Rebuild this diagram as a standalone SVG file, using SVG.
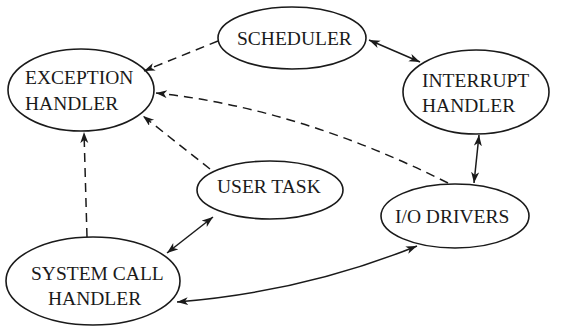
<svg xmlns="http://www.w3.org/2000/svg" width="561" height="327" viewBox="0 0 561 327">
<style>
.node ellipse{fill:none;stroke:#1a1a1a;stroke-width:1.6}
.node text{font-family:"Liberation Serif","Times New Roman",serif;font-size:19.5px;fill:#1a1a1a}
.c{fill:none;stroke:#1a1a1a;stroke-width:1.5}
.d{stroke-dasharray:9 6}
</style>
<defs>
<marker id="ah" markerUnits="userSpaceOnUse" markerWidth="12" markerHeight="10" refX="11" refY="4" orient="auto-start-reverse">
<path d="M0,0 L11,4 L0,8 L3,4 z" fill="#1a1a1a"/>
</marker>
</defs>
<rect width="561" height="327" fill="#ffffff"/>
<g id="connectors">
<path class="c d" d="M218,41 L144,71" marker-end="url(#ah)"/>
<path class="c" d="M369,40 L420,62" marker-start="url(#ah)" marker-end="url(#ah)"/>
<path class="c d" d="M448,183 Q298,108 156,93" marker-end="url(#ah)"/>
<path class="c d" d="M210,169 L143,116" marker-end="url(#ah)"/>
<path class="c d" d="M87,237 L84,132" marker-end="url(#ah)"/>
<path class="c" d="M213,217 L167,253" marker-start="url(#ah)" marker-end="url(#ah)"/>
<path class="c" d="M177,302 Q303,292 417,246" marker-start="url(#ah)" marker-end="url(#ah)"/>
<path class="c" d="M479,135 L474,183" marker-start="url(#ah)" marker-end="url(#ah)"/>
</g>
<g id="exception-handler" class="node">
<ellipse cx="81" cy="90" rx="73" ry="41"/>
<text x="25" y="84">EXCEPTION</text>
<text x="25" y="110">HANDLER</text>
</g>
<g id="scheduler" class="node">
<ellipse cx="292" cy="38" rx="74" ry="31"/>
<text x="237" y="45">SCHEDULER</text>
</g>
<g id="interrupt-handler" class="node">
<ellipse cx="476" cy="92" rx="73" ry="42"/>
<text x="422" y="87">INTERRUPT</text>
<text x="422" y="112">HANDLER</text>
</g>
<g id="user-task" class="node">
<ellipse cx="270" cy="190" rx="73" ry="29"/>
<text x="217" y="193">USER TASK</text>
</g>
<g id="io-drivers" class="node">
<ellipse cx="455" cy="216" rx="74" ry="32"/>
<text x="395" y="223">I/O DRIVERS</text>
</g>
<g id="system-call-handler" class="node">
<ellipse cx="93" cy="281" rx="87" ry="44"/>
<text x="31" y="280">SYSTEM CALL</text>
<text x="48" y="305">HANDLER</text>
</g>
</svg>
